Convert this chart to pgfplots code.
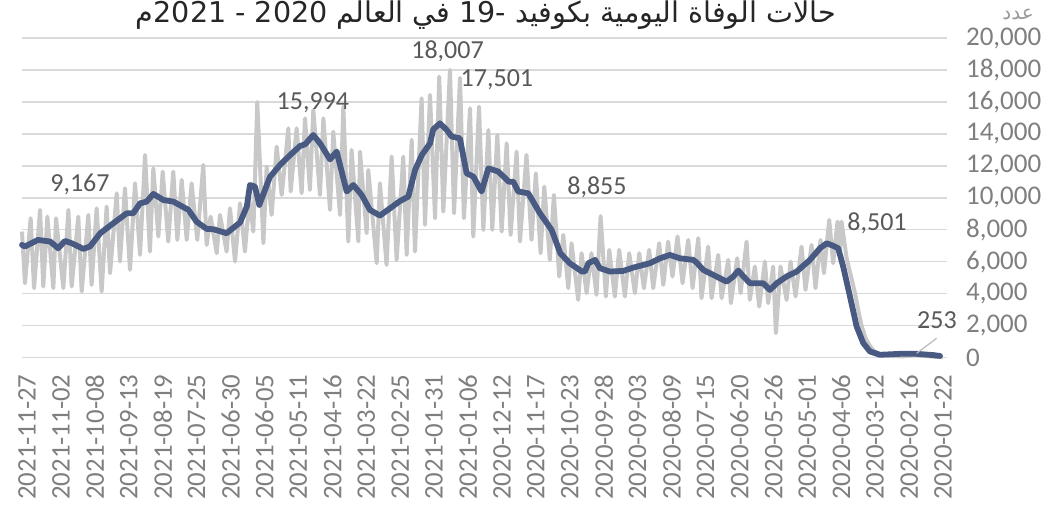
\documentclass[border=0pt]{standalone}
\usepackage{pgfplots}
\pgfplotsset{compat=1.18}
\usepackage{fontspec}
\setmainfont{Carlito}
\newfontfamily\arabicfont[Script=Arabic]{DejaVu Sans}
\TeXXeTstate=1
\definecolor{rawgray}{HTML}{C8C8C8}
\definecolor{avgblue}{HTML}{485A82}
\definecolor{gridgray}{HTML}{D9D9D9}
\definecolor{ticktext}{HTML}{7F7F7F}
\definecolor{labtext}{HTML}{595959}
\begin{document}
\begin{tikzpicture}
\useasboundingbox (-11pt,-73.25pt) rectangle (515pt,178.75pt);
\begin{axis}[
  at={(0,0)}, anchor=south west,
  scale only axis, width=462.5pt, height=159.75pt,
  x dir=reverse, xmin=-3, xmax=678.7,
  ymin=0, ymax=20000,
  scaled y ticks=false,
  axis line style={draw=none},
  tick style={draw=none},
  major tick length=0pt,
  ymajorgrids, grid style={draw=gridgray, line width=0.75pt},
  ytick={0,2000,4000,6000,8000,10000,12000,14000,16000,18000,20000},
  yticklabels={0,{2,000},{4,000},{6,000},{8,000},{10,000},{12,000},{14,000},{16,000},{18,000},{20,000}},
  yticklabel pos=right,
  yticklabel style={anchor=west, xshift=6pt, font=\fontsize{13.5pt}{15pt}\selectfont, text=ticktext},
  xtick={0,25,...,675},
  xticklabels={2020-01-22,2020-02-16,2020-03-12,2020-04-06,2020-05-01,2020-05-26,2020-06-20,2020-07-15,2020-08-09,2020-09-03,2020-09-28,2020-10-23,2020-11-17,2020-12-12,2021-01-06,2021-01-31,2021-02-25,2021-03-22,2021-04-16,2021-05-11,2021-06-05,2021-06-30,2021-07-25,2021-08-19,2021-09-13,2021-10-08,2021-11-02,2021-11-27},
  xticklabel style={rotate=90, anchor=east, xshift=-5pt, font=\fontsize{13.4pt}{15pt}\selectfont, text=ticktext},
  clip=false,
]
\addplot[rawgray, line width=2pt, line join=round] coordinates {
(678.7,7883)(676.5,4651)(672.3,8717)(669.8,4338)(665.4,9239)(663.0,4442)(660.0,8822)(655.6,4338)(653.6,8717)(648.2,4338)(644.5,9239)(642.1,4442)(637.2,8822)(634.7,4129)(629.8,8926)(627.4,4546)(623.7,9343)(620.0,4129)(616.3,9447)(613.8,5276)(608.9,10282)(606.5,6006)(602.8,10594)(599.1,5485)(595.4,10907)(591.7,6423)(588.0,12680)(584.4,6632)(581.9,11846)(578.2,7570)(575.0,11637)(570.9,7258)(567.2,11637)(564.2,7362)(561.0,11116)(557.3,7362)(553.7,10907)(549.5,7362)(545.1,12054)(542.6,7049)(539.7,8822)(535.2,6528)(532.8,8926)(527.9,6632)(525.4,9343)(521.7,6006)(518.0,9656)(514.4,6632)(511.2,9864)(508.2,7883)(505.3,15994)(500.8,7153)(498.4,11950)(494.7,8926)(491.0,13201)(487.3,10177)(482.4,14348)(480.7,10386)(476.3,14348)(472.6,10282)(470.1,14974)(466.5,10490)(464.0,15495)(459.1,10177)(456.6,14974)(451.7,9239)(449.3,14140)(444.3,8926)(441.9,15704)(438.2,7258)(435.8,12993)(430.8,7258)(429.6,12888)(424.7,7779)(423.5,11741)(417.3,5902)(414.9,10907)(410.0,5798)(406.3,12576)(402.6,6111)(397.7,12576)(395.2,6423)(391.5,13618)(389.1,6632)(384.2,16225)(381.7,8300)(378.0,16434)(374.3,8717)(371.2,17581)(368.2,9134)(363.3,18007)(360.3,9030)(355.9,17501)(353.0,8717)(348.5,15600)(346.1,7570)(341.9,15704)(338.7,7987)(335.0,14244)(332.1,7987)(328.4,13931)(325.2,7883)(321.5,13410)(318.6,7675)(314.2,12888)(311.7,7258)
(306.9,12680)(303.2,7362)(300.0,11533)(296.5,6528)(293.8,10699)(289.7,6111)(286.7,10177)(282.8,5068)(279.8,7675)(276.1,4338)(273.7,7153)(268.8,3608)(266.3,6528)(262.6,4025)(259.0,6528)(255.3,3921)(252.3,8855)(248.4,3816)(245.9,6736)(241.8,3816)(238.6,6736)(234.4,3816)(231.2,6528)(227.0,4025)(223.8,6528)(220.4,4338)(216.5,6736)(213.5,4338)(209.1,7153)(206.1,4546)(202.5,7258)(199.3,5068)(195.6,7570)(191.9,4651)(187.7,7362)(184.5,4338)(180.3,7466)(177.9,3712)(173.0,6945)(170.5,3712)(165.6,6423)(163.1,3712)(158.2,6111)(156.3,3399)(151.6,6215)(149.1,4025)(144.7,7258)(142.3,3608)(138.6,5693)(135.4,3191)(131.2,6006)(128.8,3399)(125.1,5693)(123.1,1522)(119.7,5693)(115.2,3608)(112.3,6006)(108.6,3816)(104.2,6945)(101.3,4234)(96.8,7049)(93.9,4338)(90.2,7362)(87.7,5276)(83.8,8613)(80.9,5902)(77.7,8509)(75.9,6528)(74.7,8501)(71.0,6215)
(67.5,5000)(65.0,4100)(62.0,2800)(60.0,2000)(57.0,1200)(54.0,750)(51.0,420)(48.0,250)(44.0,180)(40.0,100)(35.0,90)(30.0,70)(25.0,100)(21.0,150)(19.4,253)(17.0,130)(14.5,100)(10.0,75)(7.0,50)(4.0,40)(2.0,30)(0,17)
};
\addplot[avgblue, line width=2.9pt, line join=round, line cap=round] coordinates {
(678.7,7050)(676.5,6950)(667,7360)(658,7260)(652,6840)(647,7300)(642,7150)(633.5,6800)(628.6,6950)(621,7780)(611.5,8400)(601.5,9030)(596.7,9030)(591.7,9650)(586.8,9760)(581.9,10240)(574.5,9860)(567.2,9760)(556,9240)(550,8500)(542.6,8050)(537.7,8030)(527.9,7780)(518,8450)(513,9450)(510.7,10800)(507,10700)(503.8,9550)(496,11300)(488.6,12050)(481,12680)(473.8,13240)(470,13350)(464,13930)(459,13400)(451.7,12400)(446.8,12890)(439.4,10390)(434.5,10800)(428.4,10180)(422.3,9240)(414.9,8880)(407.5,9340)(400,9800)(394,10070)(389,11740)(384,12680)(378,13400)(375.6,14280)(370.7,14660)(365.7,14240)(362,13830)(356,13720)(351,11530)(346,11320)(340,10390)(335,11840)(327.7,11640)(320,11010)(316.6,11000)(313,10390)(305.6,10280)(297,9030)(288.4,7990)(282,6530)(275,5900)(266,5380)(263.8,5380)(261.3,5900)(256.4,6110)(252.8,5590)(245.4,5380)(235.6,5420)(228.2,5630)(216,5900)(208.5,6210)(201.2,6420)(193.8,6210)(184,6110)(181.5,5940)(176.6,5480)(169.2,5170)(159.4,4750)(154.5,5070)(150.8,5440)(147,5070)(142.2,4650)(132.4,4650)(127.5,4230)(122.5,4650)(115.2,5070)(107.8,5380)(98,6110)(90.6,6840)(85.7,7150)(80.8,6990)(77.2,6840)(73.5,5690)(68.5,3820)(63.6,1940)(58.7,900)(53.8,380)(46.4,170)(31.7,230)(19.4,230)(7.1,150)(2.2,100)
};
\draw[rawgray!80!gray, line width=0.6pt] (axis cs:4.6,1204) -- (axis cs:19.4,263);
\begin{scope}[every node/.style={font=\fontsize{13pt}{15pt}\selectfont, text=labtext}]
\node at (axis cs:636.0,10815) {9,167};
\node at (axis cs:464.3,15956) {15,994};
\node at (axis cs:365.1,19172) {18,007};
\node at (axis cs:328.7,17398) {17,501};
\node at (axis cs:255.0,10627) {8,855};
\node at (axis cs:48.6,8433) {8,501};
\node at (axis cs:4.4,2351) {253};
\end{scope}
\end{axis}
\node[anchor=center, text=black!85] at (232pt,171pt) {\resizebox{350pt}{!}{\arabicfont\beginR حالات الوفاة اليومية بكوفيد -19 في العالم 2020 - 2021م\endR}};
\node[anchor=center, text=black!40] at (498pt,171.5pt) {\arabicfont\fontsize{10pt}{12pt}\selectfont\beginR عدد\endR};
\end{tikzpicture}
\end{document}
